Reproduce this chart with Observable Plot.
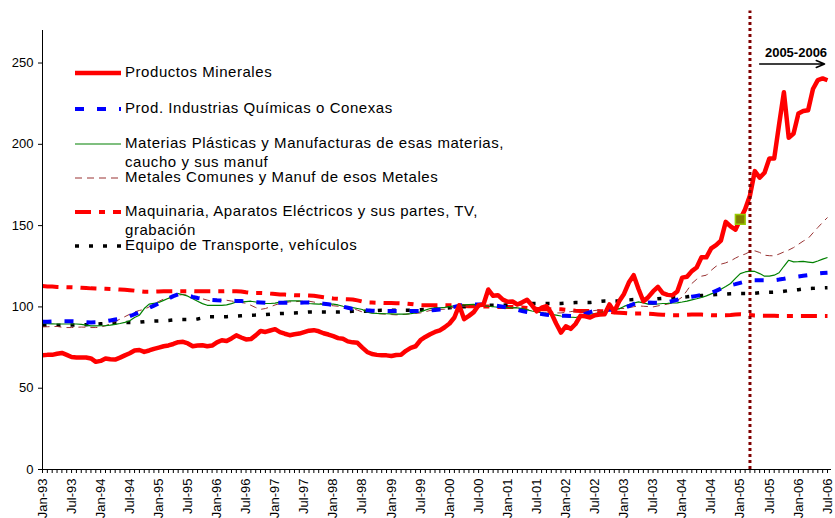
<!DOCTYPE html>
<html>
<head>
<meta charset="utf-8">
<script src="https://cdn.jsdelivr.net/npm/d3@7"></script>
<script src="https://cdn.jsdelivr.net/npm/@observablehq/plot@0.6"></script>
<style>
  html, body { margin: 0; padding: 0; background: #fff; }
  #wrap { position: relative; width: 835px; height: 518px; overflow: hidden; font-family: "Liberation Sans", Arial, sans-serif; }
  #wrap svg { display: block; }
  #legend { position: absolute; left: 0; top: 0; pointer-events: none; }
</style>
</head>
<body>
<div id="wrap"></div>
<script>
// ---- Tick labels (every 6 months, Jan-93 .. Jul-06) ----
const xTickLabels = [
  "Jan-93","Jul-93","Jan-94","Jul-94","Jan-95","Jul-95","Jan-96","Jul-96",
  "Jan-97","Jul-97","Jan-98","Jul-98","Jan-99","Jul-99","Jan-00","Jul-00",
  "Jan-01","Jul-01","Jan-02","Jul-02","Jan-03","Jul-03","Jan-04","Jul-04",
  "Jan-05","Jul-05","Jan-06","Jul-06"
];
const yTicks = [0, 50, 100, 150, 200, 250];

// ---- Monthly series, Jan-93 .. Jul-06 (163 values each) ----
const productosMinerales = [
  70.3,70.5,70.5,71.2,71.7,70.5,69.2,68.9,68.9,68.9,
  68.3,66.2,66.8,68.3,67.8,67.6,68.8,70.2,71.5,73.2,
  73.5,72.3,73.2,74.2,75.0,75.8,76.3,77.2,78.3,78.5,
  77.5,75.8,76.2,76.4,75.8,76.2,78.2,79.5,79.0,80.6,
  82.5,81.2,80.0,80.2,82.5,85.2,84.6,85.5,86.3,84.5,
  83.5,82.6,83.2,83.6,84.5,85.4,85.7,85.0,83.8,83.0,
  82.0,80.8,80.4,78.8,78.2,77.9,75.0,72.3,71.0,70.5,
  70.3,70.2,69.8,70.4,70.6,73.0,74.8,75.8,79.5,81.5,
  83.2,84.6,85.6,87.5,89.8,93.5,101.0,92.5,94.5,96.8,
  101.0,101.5,110.7,106.8,107.2,104.5,103.2,103.3,101.5,102.8,
  104.4,101.0,97.3,99.5,100.4,96.2,89.8,84.2,88.1,86.5,
  89.5,94.5,94.2,93.5,94.9,95.3,95.5,101.5,97.0,103.5,
  108.0,115.0,119.5,111.0,103.5,106.0,109.5,112.3,108.5,107.4,
  107.2,109.5,118.0,118.5,122.0,124.2,130.5,130.5,136.0,138.0,
  140.8,152.3,149.5,147.5,153.9,160.0,168.5,183.5,179.5,182.5,
  191.3,191.3,212.0,232.0,204.0,206.6,219.0,220.5,221.0,234.0,
  239.5,240.5,239.4
];
const prodQuimicas = [
  90.8,90.9,91.0,91.1,91.2,91.2,91.2,91.1,90.9,90.6,
  90.4,90.5,90.8,91.2,91.7,92.2,92.7,93.3,94.2,95.5,
  96.7,98.0,99.4,100.8,102.1,103.6,105.2,106.6,107.8,107.8,
  107.0,106.2,105.5,105.0,104.7,104.3,104.1,104.0,103.9,103.8,
  103.7,103.6,103.5,103.2,102.9,102.7,102.5,102.5,102.5,102.5,
  102.5,102.5,102.5,102.6,102.7,102.7,102.7,102.4,102.0,101.6,
  101.2,100.8,100.2,99.5,98.8,98.6,98.2,97.9,97.7,97.5,
  97.5,97.5,97.5,97.5,97.5,97.5,97.5,97.5,97.5,97.6,
  97.8,98.1,98.4,98.6,99.3,100.0,100.8,101.5,101.5,101.5,
  101.5,101.5,101.5,101.1,100.6,100.1,99.6,99.0,98.2,97.5,
  96.8,96.3,96.0,95.6,95.2,94.9,94.8,94.6,94.5,94.4,
  94.3,94.8,95.7,96.8,97.6,98.0,98.1,98.2,98.3,98.4,
  99.2,100.5,101.8,102.7,102.7,102.7,102.6,102.5,102.5,102.8,
  103.6,104.4,105.2,105.8,106.3,106.8,107.3,107.8,108.6,109.9,
  111.2,112.5,113.3,114.0,114.8,115.6,116.4,116.4,116.4,116.4,
  116.4,116.4,116.8,117.3,117.9,118.3,118.7,119.2,119.6,120.0,
  120.5,120.8,121.0
];
const materiasPlasticas = [
  89.8,89.7,89.6,89.5,89.5,89.5,89.5,89.5,89.2,88.8,
  88.3,88.3,88.4,88.5,88.8,89.3,89.8,90.5,91.5,93.5,
  94.9,99.0,101.7,102.2,102.7,104.0,105.3,106.5,108.2,107.5,
  106.6,105.0,103.5,102.0,101.0,101.0,101.0,101.0,101.3,102.0,
  103.0,103.1,103.3,103.5,103.0,102.5,102.1,102.1,102.3,102.9,
  103.4,103.7,103.7,103.7,103.0,102.1,101.9,101.7,101.7,101.7,
  101.7,101.2,100.4,100.1,99.6,99.0,98.4,96.8,96.2,96.0,
  95.9,95.8,95.7,95.6,95.5,95.6,95.9,96.3,97.0,98.0,
  99.0,99.4,99.4,99.7,100.2,100.6,101.0,101.2,101.4,101.5,
  101.2,100.8,100.4,100.1,99.8,99.6,99.5,99.4,99.4,98.9,
  98.2,97.5,97.0,96.5,95.9,95.4,94.9,94.4,94.0,93.7,
  93.5,94.2,95.0,95.5,95.9,96.3,97.0,97.8,98.4,98.8,
  100.3,101.5,102.3,103.1,102.5,101.7,101.5,101.8,102.1,102.2,
  102.4,102.5,103.0,103.6,104.3,105.0,105.8,106.8,108.0,109.2,
  110.8,112.5,114.4,117.5,120.5,121.5,122.0,121.8,120.5,118.9,
  118.9,119.5,121.0,125.0,128.7,127.7,127.8,128.0,127.6,127.2,
  128.2,129.4,130.4
];
const metalesComunes = [
  87.7,87.8,87.9,88.0,87.5,87.3,87.3,87.5,87.6,87.5,
  87.3,87.3,87.6,88.4,89.6,91.0,92.5,94.0,95.5,96.9,
  97.8,98.5,100.0,101.8,103.4,104.8,105.2,106.5,107.2,107.6,
  107.2,106.4,105.5,105.0,104.2,103.5,103.8,104.1,104.1,103.6,
  103.1,102.8,102.2,101.0,99.6,98.5,99.0,100.0,101.2,102.1,
  102.6,103.1,103.2,103.4,103.6,103.5,103.0,102.3,101.5,101.0,
  100.7,100.4,100.1,99.6,99.0,98.0,96.9,96.6,96.4,95.9,
  95.7,95.5,95.3,95.1,95.3,95.5,95.8,96.0,96.3,97.0,
  97.8,98.1,98.4,98.6,99.2,99.8,100.4,100.4,100.4,100.4,
  100.4,100.4,100.4,100.1,99.8,99.6,99.6,99.6,99.6,99.0,
  98.5,98.0,97.4,96.8,96.3,96.3,96.3,96.3,96.7,97.1,
  97.5,97.5,97.5,97.5,97.8,98.1,98.4,98.6,98.8,99.0,
  99.0,99.5,100.1,100.6,100.4,100.2,100.0,100.6,101.2,101.7,
  102.5,104.0,106.0,110.0,114.4,117.0,118.9,119.5,122.5,125.0,
  126.3,127.1,128.3,130.0,131.5,132.5,134.0,134.5,133.5,131.8,
  131.5,131.4,132.5,133.8,135.0,136.5,138.5,140.5,142.1,145.5,
  148.8,152.0,155.0
];
const maquinaria = [
  112.8,112.6,112.5,112.3,112.2,112.1,
  112.1,112.0,111.8,111.6,111.4,111.3,
  111.2,111.1,111.0,110.9,110.7,110.5,
  110.3,110.0,109.6,109.3,109.3,109.4,
  109.5,109.6,109.7,109.7,109.7,109.7,
  109.7,109.7,109.6,109.6,109.6,109.6,
  109.6,109.6,109.7,109.7,109.7,109.5,
  109.0,108.6,108.6,108.6,108.5,108.2,
  108.0,107.7,107.6,107.4,107.2,107.2,
  107.1,107.0,106.8,106.4,106.0,105.6,
  105.2,105.0,104.8,104.7,104.6,104.0,
  103.3,102.8,102.7,102.6,102.5,102.4,
  102.4,102.3,102.2,102.1,101.8,101.4,
  101.1,101.0,101.0,101.0,101.0,101.0,
  101.0,100.9,100.7,100.5,100.4,100.4,
  100.4,100.3,100.2,100.1,100.0,100.0,
  100.0,100.0,99.9,99.7,99.4,99.1,
  98.8,98.6,98.6,98.6,98.6,98.5,
  98.2,97.9,97.6,97.5,97.5,97.5,
  97.5,97.4,97.2,96.9,96.6,96.4,
  96.2,96.0,95.9,95.9,95.9,95.8,
  95.6,95.4,95.2,95.0,94.9,94.9,
  94.9,95.1,95.3,95.4,95.3,95.1,
  94.9,94.9,94.9,94.9,95.0,95.3,
  95.5,95.3,95.0,94.7,94.6,94.6,
  94.5,94.5,94.4,94.4,94.4,94.4,
  94.4,94.4,94.4,94.4,94.4,94.4,94.4
];
const equipoTransporte = [
  88.7,88.7,88.7,88.7,88.7,88.8,88.8,88.9,89.0,89.1,
  89.3,89.4,89.6,89.8,90.0,90.2,90.4,90.4,90.4,90.4,
  90.6,90.9,91.2,91.3,91.4,91.5,91.7,92.0,92.2,92.2,
  92.2,92.2,92.6,93.2,93.9,93.9,93.9,93.9,94.0,94.2,
  94.3,94.5,94.7,94.9,95.0,95.2,95.3,95.5,95.7,95.9,
  96.0,96.2,96.3,96.5,96.7,96.9,96.9,96.9,96.9,96.9,
  96.9,96.9,97.0,97.2,97.3,97.3,97.3,97.3,97.5,97.8,
  98.0,98.0,98.0,98.0,98.0,98.0,98.0,98.1,98.3,98.4,
  98.4,98.6,98.9,99.2,99.5,99.8,100.0,100.1,100.3,100.4,
  100.6,100.8,101.0,101.0,101.0,101.0,101.3,101.6,101.9,102.0,
  102.1,102.1,102.1,102.1,102.1,102.1,102.1,102.1,102.3,102.5,
  102.7,102.7,102.7,102.7,103.0,103.4,103.7,103.7,103.7,103.7,
  104.0,104.3,104.5,104.5,104.5,104.5,104.7,105.0,105.2,105.3,
  105.5,105.6,105.9,106.2,106.6,106.8,107.0,107.2,107.4,107.6,
  107.8,107.9,108.1,108.2,108.2,108.2,108.2,108.4,108.7,108.9,
  109.0,109.1,109.2,109.6,110.0,110.3,110.6,111.0,111.3,111.4,
  111.6,111.7,111.8
];

// ---- Annotations (month index, value) ----
const markerPoint = [{ m: 144, v: 153.9 }];         // Jan-05 highlighted point
const dividerMonth = [{ m: 146, v1: 0, v2: 282 }];   // dotted vertical divider
const periodArrow = [{ m1: 148, m2: 161.4, v: 249.4 }];
const periodLabel = [{ m: 155.5, v: 256, text: "2005-2006" }];

// ---- Series styles ----
const series = [
  { name: ["Maquinaria, Aparatos Eléctricos y sus partes, TV,", "grabación"], values: maquinaria,
    stroke: "#ff0000", width: 4, dash: "16,8,6,8", legendY: 212 },
  { name: ["Equipo de Transporte, vehículos"], values: equipoTransporte,
    stroke: "#000000", width: 3.5, dash: "4,10", legendY: 246 },
  { name: ["Metales Comunes y Manuf de esos Metales"], values: metalesComunes,
    stroke: "#993333", width: 1, dash: "7,5", legendY: 178 },
  { name: ["Materias Plásticas y Manufacturas de esas materias,", "caucho y sus manuf"], values: materiasPlasticas,
    stroke: "#008000", width: 1.2, dash: null, legendY: 144 },
  { name: ["Prod. Industrias Químicas o Conexas"], values: prodQuimicas,
    stroke: "#0000ff", width: 4, dash: "9,13", legendY: 109 },
  { name: ["Productos Minerales"], values: productosMinerales,
    stroke: "#ff0000", width: 4.5, dash: null, legendY: 73 }
];

const months = d3.range(0, 163);
const labelMonths = xTickLabels.map((_, k) => k * 6);

const lineMarks = series.map(s =>
  Plot.line(s.values.map((v, i) => ({ i, v })), {
    x: "i", y: "v", stroke: s.stroke, strokeWidth: s.width,
    strokeDasharray: s.dash || undefined, strokeLinejoin: "round", strokeLinecap: "butt"
  })
);

const chart = Plot.plot({
  width: 835,
  height: 518,
  marginLeft: 42,
  marginRight: 8,
  marginTop: 30,
  marginBottom: 49,
  style: { fontFamily: "'Liberation Sans', Arial, sans-serif", fontSize: "13px", color: "#000", background: "#fff", overflow: "visible" },
  x: { type: "linear", domain: [0, 162], axis: null },
  y: { domain: [0, 270], axis: null },
  marks: [
    ...lineMarks,
    Plot.ruleX(dividerMonth, { x: "m", y1: "v1", y2: "v2", stroke: "#800000", strokeWidth: 3, strokeDasharray: "3,3" }),
    Plot.dot(markerPoint, { x: "m", y: "v", symbol: "square", r: 5.5, fill: "#808000", stroke: "#99cc00", strokeWidth: 1.5 }),
    Plot.arrow(periodArrow, { x1: "m1", x2: "m2", y1: "v", y2: "v", stroke: "#000", strokeWidth: 1.5, headLength: 9, headAngle: 45 }),
    Plot.text(periodLabel, { x: "m", y: "v", text: "text", fontWeight: "bold", fontSize: 13, fill: "#000" }),
    Plot.ruleY([0], { stroke: "#000", strokeWidth: 1, insetRight: -4 }),
    Plot.ruleX([0], { stroke: "#000", strokeWidth: 1 }),
    Plot.axisY({ ticks: yTicks, tickSize: 4, tickPadding: 5, fontSize: 13, tickFormat: d => String(d) }),
    Plot.axisX({ ticks: months, tickSize: 4, tickFormat: () => "", anchor: "bottom" }),
    Plot.axisX({ ticks: labelMonths, tickSize: 0, tickPadding: 9, tickRotate: -90, fontSize: 13, anchor: "bottom",
      tickFormat: d => xTickLabels[Math.round(d / 6)] })
  ]
});

const wrap = document.getElementById("wrap");
wrap.appendChild(chart);

// ---- Legend drawn inside the plot area ----
const legend = d3.select(wrap).append("svg")
  .attr("id", "legend").attr("width", 835).attr("height", 518);
const order = [5, 4, 3, 2, 0, 1];
order.forEach(k => {
  const s = series[k];
  const y = s.legendY;
  legend.append("line")
    .attr("x1", 75).attr("x2", 121).attr("y1", y).attr("y2", y)
    .attr("stroke", s.stroke).attr("stroke-width", s.width)
    .attr("stroke-dasharray", s.dash || null);
  s.name.forEach((t, j) => {
    legend.append("text")
      .attr("x", 125).attr("y", y + j * 19.5)
      .attr("dominant-baseline", "middle")
      .attr("font-family", "'Liberation Sans', Arial, sans-serif")
      .attr("font-size", 15)
      .attr("letter-spacing", "0.55px")
      .attr("fill", "#000")
      .text(t);
  });
});
</script>
</body>
</html>
